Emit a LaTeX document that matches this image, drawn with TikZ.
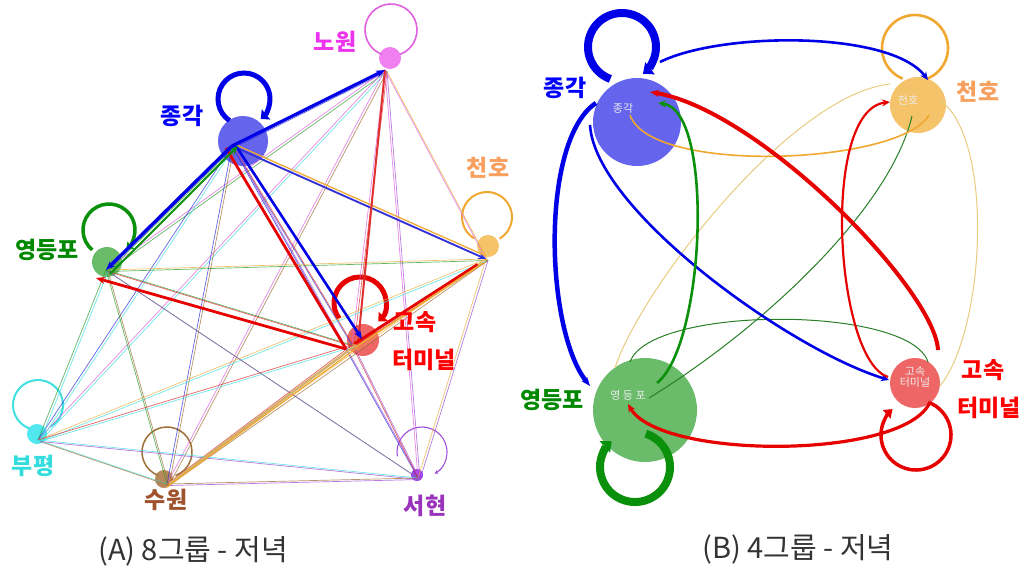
\documentclass[tikz,border=0pt]{standalone}
\usepackage{fontspec}
\newfontfamily\cjk{Noto Sans CJK KR}
\usetikzlibrary{arrows.meta}
\definecolor{cN}{HTML}{E060E0}
\definecolor{cJ}{HTML}{3030E0}
\definecolor{cC}{HTML}{EBB040}
\definecolor{cY}{HTML}{30A030}
\definecolor{cG}{HTML}{E03030}
\definecolor{cB}{HTML}{40E0E0}
\definecolor{cS}{HTML}{A0703A}
\definecolor{cH}{HTML}{A050D8}
\definecolor{lN}{HTML}{EE33EE}
\definecolor{lJ}{HTML}{0000FF}
\definecolor{lC}{HTML}{F8A060}
\definecolor{lY}{HTML}{008800}
\definecolor{lG}{HTML}{FF0000}
\definecolor{lB}{HTML}{33DDDD}
\definecolor{lS}{HTML}{A0522D}
\definecolor{lH}{HTML}{9933BB}
\definecolor{fN}{HTML}{F080F0}
\definecolor{fJ}{HTML}{6464EC}
\definecolor{fC}{HTML}{F5C46A}
\definecolor{fY}{HTML}{6ABB6A}
\definecolor{fG}{HTML}{EE6666}
\definecolor{fB}{HTML}{50E8EE}
\definecolor{fS}{HTML}{B8885A}
\definecolor{fH}{HTML}{A040F0}
\definecolor{thickblue}{HTML}{0000E6}
\definecolor{thickgreen}{HTML}{0A900A}
\definecolor{thickred}{HTML}{E60000}
\definecolor{loopor}{HTML}{F0A830}
\definecolor{tancol}{HTML}{E8CC80}
\definecolor{capgray}{HTML}{333333}
\begin{document}
\begin{tikzpicture}[x=1pt,y=-1pt,
  lbl/.style={font=\cjk\bfseries\fontsize{23}{26}\selectfont, inner sep=0pt},
  inlbl/.style={font=\cjk\fontsize{11}{12}\selectfont, inner sep=0pt, text=white!85!gray, align=center},
  captxt/.style={font=\cjk\fontsize{29}{32}\selectfont, inner sep=0pt, text=capgray},
  gnode/.style={circle, inner sep=0pt, draw=none},
  thinedge/.style={line width=0.7pt, opacity=0.75},
  arrtip/.style={-{Stealth[length=9pt,width=7pt]}},
  bigtip/.style={-{Triangle[length=9pt,width=15pt]}},
  midtip/.style={-{Stealth[length=8pt,width=7pt]}}
]
\useasboundingbox (0,0) rectangle (1025,571);
\fill[white] (0,0) rectangle (1025,571);

% ================= Panel A =================
\node[gnode, fill=fN, minimum size=22pt] (aN) at (390,58) {};
\node[gnode, fill=fJ, minimum size=50pt] (aJ) at (243,141) {};
\node[gnode, fill=fC, minimum size=22pt] (aC) at (488,246) {};
\node[gnode, fill=fY, minimum size=30pt] (aY) at (107,262) {};
\node[gnode, fill=fG, minimum size=32pt] (aG) at (363,340) {};
\node[gnode, fill=fB, minimum size=20pt] (aB) at (37,434) {};
\node[gnode, fill=fS, minimum size=18pt] (aS) at (164,479) {};
\node[gnode, fill=fH, minimum size=12pt] (aH) at (417,475) {};

\coordinate (hN) at (385,70);
\coordinate (hJ) at (232,146);
\coordinate (hC) at (486,259);
\coordinate (hY) at (106,270);
\coordinate (hG) at (352,345);
\coordinate (hB) at (38,440);
\coordinate (hS) at (167,484);
\coordinate (hH) at (418,478);

% loops A
\draw[cN, line width=1.6pt] (391,30) ++(110:26) arc[start angle=110, end angle=430, radius=26];
\draw[thickblue, line width=5pt, -{Triangle[length=7pt,width=13pt]}] (244,99) ++(124:26) arc[start angle=124, end angle=410, radius=26];
\draw[thickgreen, line width=3.5pt, -{Triangle[length=6pt,width=10pt]}] (109,230) ++(130:26) arc[start angle=130, end angle=408, radius=26];
\draw[loopor, line width=2pt] (487,217) ++(120:25) arc[start angle=120, end angle=420, radius=25];
\draw[thickred, line width=5pt, -{Triangle[length=7pt,width=13pt]}] (360,303) ++(143:26) arc[start angle=143, end angle=405, radius=26];
\draw[cB, line width=2pt] (38,405) ++(110:25) arc[start angle=110, end angle=420, radius=25];
\draw[cS, line width=1.5pt] (167,452) ++(110:25) arc[start angle=110, end angle=430, radius=25];
\draw[cH, line width=1.1pt, -{Stealth[length=4pt,width=4pt]}] (422,452) ++(170:25) arc[start angle=170, end angle=420, radius=25];

% thin edges (both directions)
\foreach \a/\b in {N/J,N/C,N/Y,N/G,N/B,N/S,N/H,J/C,J/Y,J/G,J/B,J/S,J/H,C/Y,C/G,C/B,C/S,C/H,Y/G,Y/B,Y/S,Y/H,G/B,G/S,G/H,B/S,B/H,S/H}{
  \draw[thinedge, c\a] (h\a) -- (h\b);
  \draw[thinedge, c\b] ([shift={(2,1.5)}]h\a) -- ([shift={(2,1.5)}]h\b);
}

% thicker edges A
\draw[cJ, line width=1.8pt, midtip] (hJ) -- (hC);
\draw[loopor, line width=1.3pt] ([shift={(0,-3)}]hC) -- ([shift={(2,-2)}]hJ);
\draw[cG, line width=2pt] (hN) -- ([shift={(6,-2)}]hG);
\draw[thickred, line width=2.8pt, shorten >=10pt] ([shift={(2,-1)}]hG) -- (hC);
\draw[loopor, line width=1.5pt] ([shift={(4,2)}]hG) -- ([shift={(-3,4)}]hC);
\draw[tancol!70!cS, line width=2.4pt] ([shift={(2,0)}]hS) -- ([shift={(4,0)}]hG);
\draw[loopor, line width=1.2pt] ([shift={(0,3)}]hS) -- ([shift={(6,2)}]hG);
\draw[thickred, line width=2.8pt, arrtip] ([shift={(-6,4)}]hG) -- ([shift={(-10,8)}]hY);
\draw[thickred, line width=2.8pt] ([shift={(-6,4)}]hG) -- ([shift={(-6,2)}]hJ);
\draw[thickblue, line width=2.6pt, arrtip] ([shift={(4,0)}]hJ) -- ([shift={(10,-6)}]hG);
\draw[thickgreen, line width=2pt, arrtip] ([shift={(4,4)}]hY) -- ([shift={(6,0)}]hJ);
\draw[thickblue, line width=3.5pt, arrtip] (hJ) -- (hY);
\draw[thickblue, line width=3.2pt, arrtip] (hJ) -- (hN);

% labels A
\node[lbl, text=lN] (tN) at (335,42) {노원};
\node[lbl, text=lJ] (tJ) at (182,116) {종각};
\node[lbl, text=lC] (tC) at (488,168) {천호};
\node[lbl, text=lY] (tY) at (47,250) {영등포};
\node[lbl, text=lG] (tG1) at (415,322) {고속};
\node[lbl, text=lG] (tG2) at (424,360) {터미널};
\node[lbl, text=lB] (tB) at (33,466) {부평};
\node[lbl, text=lS] (tS) at (166,500) {수원};
\node[lbl, text=lH] (tH) at (425,506) {서현};
\node[captxt] (capA) at (193,551) {(A) 8그룹 - 저녁};

% ================= Panel B =================
\node[gnode, fill=fJ, minimum size=88pt] (bJ) at (637,122) {};
\node[gnode, fill=fC, minimum size=56pt] (bC) at (918,105) {};
\node[gnode, fill=fY, minimum size=104pt] (bY) at (645,410) {};
\node[gnode, fill=fG, minimum size=50pt] (bG) at (915,383) {};
\node[inlbl] (iJ) at (623,108) {종각};
\node[inlbl] (iC) at (908,100) {천호};
\node[inlbl] (iY) at (628,395) {영 등 포};
\node[inlbl, font=\cjk\fontsize{11}{11}\selectfont] (iG) at (915,377) {고속\\터미널};

% loops B
\draw[thickblue, line width=8pt, bigtip] (622,47) ++(110:34) arc[start angle=110, end angle=412, radius=34];
\draw[loopor, line width=2.6pt] (915,48) ++(112:33) arc[start angle=112, end angle=428, radius=33];
\draw[thickgreen, line width=8pt, bigtip] (635,467) ++(-72:35) arc[start angle=-72, end angle=228, radius=35];
\draw[thickred, line width=3.5pt, -{Triangle[length=8pt,width=11pt]}] (916,435) ++(-68:35) arc[start angle=-68, end angle=228, radius=35];

\coordinate (bJa) at (660,62);
\coordinate (bCa) at (928,80);
\coordinate (bJb) at (596,103);
\coordinate (bYa) at (590,386);
\coordinate (bJc) at (590,125);
\coordinate (bGa) at (889,380);
\coordinate (bGb) at (938,350);
\coordinate (bJd) at (650,92);
\coordinate (bGc) at (888,377);
\coordinate (bCb) at (890,102);
\coordinate (bGd) at (930,402);
\coordinate (bYb) at (628,404);
\coordinate (bYc) at (657,383);
\coordinate (bJe) at (658,103);
\coordinate (bYd) at (649,398);
\coordinate (bCc) at (912,116);
\coordinate (bYe) at (630,362);
\coordinate (bGe) at (928,362);
\coordinate (bJf) at (630,115);
\coordinate (bCd) at (929,115);
\coordinate (bCe) at (890,84);
\coordinate (bYf) at (615,368);
\coordinate (bCf) at (940,100);
\coordinate (bGf) at (940,386);

% thin curves B
\draw[tancol, line width=1pt] (bCe) .. controls (790,95) and (640,290) .. (bYf);
\draw[tancol, line width=1pt] (bCf) .. controls (995,140) and (985,330) .. (bGf);
\draw[cY!80!black, line width=1pt] (bYd) .. controls (760,330) and (890,210) .. (bCc);
\draw[cY!80!black, line width=1pt] (bYe) .. controls (650,305) and (910,305) .. (bGe);
\draw[loopor, line width=1.6pt] (bJf) .. controls (650,175) and (900,165) .. (bCd);

% main curves B
\draw[thickblue, line width=2.6pt, midtip] (bJa) .. controls (720,32) and (890,30) .. (bCa);
\draw[thickblue, line width=4.5pt, arrtip] (bJb) .. controls (540,140) and (545,330) .. (bYa);
\draw[thickblue, line width=2.6pt, midtip] (bJc) .. controls (595,210) and (790,350) .. (bGa);
\draw[thickred, line width=2.2pt, midtip] (bGc) .. controls (835,360) and (820,110) .. (bCb);
\draw[thickred, line width=3.2pt, midtip] (bGd) .. controls (905,460) and (660,460) .. (bYb);
\draw[thickgreen, line width=2.6pt, midtip] (bYc) .. controls (705,345) and (715,110) .. (bJe);
\draw[thickred, line width=4pt, arrtip] (bGb) .. controls (935,290) and (760,110) .. (bJd);

% labels B
\node[lbl, text=lJ] (uJ) at (565,88) {종각};
\node[lbl, text=lC] (uC) at (978,92) {천호};
\node[lbl, text=lY] (uY) at (552,400) {영등포};
\node[lbl, text=lG] (uG1) at (983,370) {고속};
\node[lbl, text=lG] (uG2) at (989,408) {터미널};
\node[captxt] (capB) at (798,549) {(B) 4그룹 - 저녁};
\end{tikzpicture}
\end{document}
